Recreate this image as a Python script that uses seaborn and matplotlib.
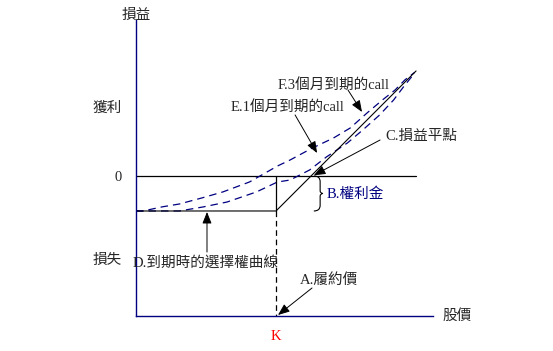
import matplotlib
matplotlib.use("Agg")
import matplotlib.pyplot as plt
import seaborn as sns
import pandas as pd
from matplotlib.path import Path
from matplotlib.patches import PathPatch

# ---- data (conceptual units: stock price on x, profit/loss on y) ----
strike = 100
premium = 25
price_end = 200

expiry_price = [0, strike, price_end]
expiry_pl = [-premium, -premium, price_end - strike - premium]

call_3m_price = [0, 5, 19, 31, 47, 62, 81, 91, 101, 110, 126, 141, 153, 165, 176, 185, 192, 199]
call_3m_pl = [-25, -25, -22, -20, -15.7, -11.4, -4.3, 1.4, 7.1, 11.4, 20, 27.1, 34.3, 45, 54.3, 61.4, 68.6, 74]

call_1m_price = [0, 31, 48, 65, 86, 101, 110, 124, 136, 151, 162, 174, 184, 191, 199]
call_1m_pl = [-25, -25, -22.1, -18.6, -11.4, -4.3, -2.9, 4.3, 13.6, 23.6, 32.9, 43.6, 54.3, 63.6, 73.5]

ytick_pos = [49.3, 0, -59.3]
ytick_labels = ["獲利", "0", "損失"]
xtick_pos = [strike]
xtick_labels = ["K"]

NAVY = "#000080"
FONT = ["Liberation Serif", "Noto Sans CJK TC"]
FS = 10.5

sns.set_theme(style="white")
plt.rcParams["font.family"] = FONT
plt.rcParams["axes.unicode_minus"] = False

fig = plt.figure(figsize=(5.53, 3.51), dpi=100)
ax = fig.add_axes([136 / 553, 35 / 351, 297 / 553, 296 / 351])
ax.set_xlim(0, 212.1)
ax.set_ylim(-100, 111.4)

for s in ["top", "right"]:
    ax.spines[s].set_visible(False)
for s in ["left", "bottom"]:
    ax.spines[s].set_color(NAVY)
    ax.spines[s].set_linewidth(1.0)

# zero line
ax.plot([0, price_end], [0, 0], color="black", lw=0.9)

# curves before expiry
df3 = pd.DataFrame({"price": call_3m_price, "pl": call_3m_pl})
df1 = pd.DataFrame({"price": call_1m_price, "pl": call_1m_pl})
sns.lineplot(data=df3, x="price", y="pl", ax=ax, color=NAVY, lw=0.9,
             dashes=False, sort=False)
sns.lineplot(data=df1, x="price", y="pl", ax=ax, color=NAVY, lw=0.9,
             dashes=False, sort=False)
for ln in ax.lines[-2:]:
    ln.set_dashes((6, 4))

# expiry payoff
dfe = pd.DataFrame({"price": expiry_price, "pl": expiry_pl})
sns.lineplot(data=dfe, x="price", y="pl", ax=ax, color="black", lw=0.8, sort=False)

# strike vertical
ax.plot([strike, strike], [0, -premium], color="black", lw=0.9)
ax.plot([strike, strike], [-premium, -100], color="black", lw=0.9, dashes=(4.5, 3))

# ticks
ax.set_yticks(ytick_pos)
ax.set_yticklabels(ytick_labels, fontsize=FS)
ax.set_xticks(xtick_pos)
ax.set_xticklabels(xtick_labels, fontsize=FS, color="red")
ax.tick_params(axis="both", length=0)
ax.tick_params(axis="y", pad=10)
ax.tick_params(axis="x", pad=10)
ax.set_xlabel("")
ax.set_ylabel("")

# axis titles
ax.text(219, -100, "股價", fontsize=FS, ha="left", va="center", clip_on=False)
ax.text(0, 114.5, "損益", fontsize=FS, ha="center", va="center", clip_on=False)

arrow = dict(arrowstyle="-|>,head_length=0.7,head_width=0.28", color="black",
             lw=0.7, mutation_scale=10, shrinkA=0, shrinkB=0)

# F
ax.text(101.4, 65, "F.3個月到期的call", fontsize=FS, ha="left", va="center")
ax.annotate("", xy=(161.4, 45.7), xytext=(151.4, 61.4), arrowprops=arrow)
# E
ax.text(67.9, 49.3, "E.1個月到期的call", fontsize=FS, ha="left", va="center")
ax.annotate("", xy=(129.3, 16.4), xytext=(113.6, 43.6), arrowprops=arrow)
# C
ax.text(177.9, 27.9, "C.損益平點", fontsize=FS, ha="left", va="center")
ax.annotate("", xy=(127, 0.5), xytext=(174.3, 25.7), arrowprops=arrow)
# B
ax.text(136.4, -12.9, "B.權利金", fontsize=FS, ha="left", va="center", color=NAVY)
bx = strike + premium + 2
verts = [(bx, 0), (bx + 4.5, 0), (bx + 4.5, -4),
         (bx + 4.5, -10.5), (bx + 4.5, -12.5), (bx + 6.5, -12.5),
         (bx + 4.5, -12.5), (bx + 4.5, -14.5), (bx + 4.5, -21),
         (bx + 4.5, -premium), (bx, -premium)]
codes = [Path.MOVETO, Path.CURVE3, Path.CURVE3,
         Path.LINETO, Path.CURVE3, Path.CURVE3,
         Path.CURVE3, Path.CURVE3, Path.LINETO,
         Path.CURVE3, Path.CURVE3]
ax.add_patch(PathPatch(Path(verts, codes), fill=False, color="black", lw=0.8))
# D
ax.text(-2.1, -62.1, "D.到期時的選擇權曲線", fontsize=FS, ha="left", va="center")
ax.annotate("", xy=(50.7, -25.7), xytext=(50.7, -54.3), arrowprops=arrow)
# A
ax.text(117.1, -74.3, "A.履約價", fontsize=FS, ha="left", va="center")
ax.annotate("", xy=(101.4, -99.3), xytext=(125.7, -80), arrowprops=arrow)

fig.savefig("out.png", dpi=100, facecolor="white")
